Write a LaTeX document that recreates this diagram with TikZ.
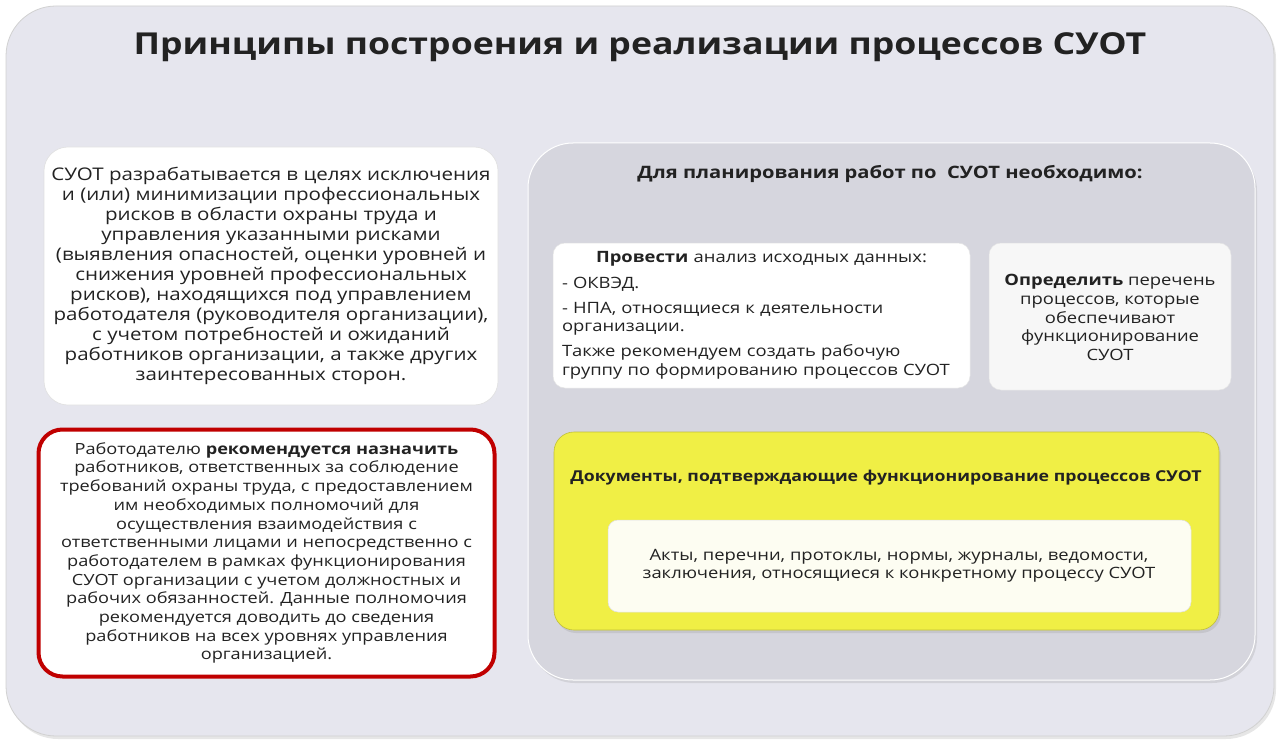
\documentclass[tikz,border=0pt]{standalone}
\usepackage{fontspec}
\setmainfont[FakeStretch=1.18]{Open Sans}
\usetikzlibrary{positioning,shadows}

\definecolor{panelbg}{HTML}{E6E6EE}
\definecolor{innerbg}{HTML}{D6D6DE}
\definecolor{redline}{HTML}{C00000}
\definecolor{yellowbg}{HTML}{F0EF45}
\definecolor{creambg}{HTML}{FDFDF2}
\definecolor{inktext}{HTML}{222222}

\begin{document}
\begin{tikzpicture}[
    x=1pt, y=-1pt,
    every node/.style={text=inktext, align=center, inner sep=0pt},
    softshadow/.style={drop shadow={shadow xshift=2pt, shadow yshift=-3pt, opacity=0.22, fill=black!45}},
    panel/.style={rectangle, rounded corners=50pt, fill=panelbg, draw=black!18, line width=0.8pt, softshadow},
    innerpanel/.style={rectangle, rounded corners=45pt, fill=innerbg, draw=white, line width=1pt, softshadow},
    card/.style={rectangle, rounded corners=24pt, fill=white, draw=black!12, line width=0.6pt},
    smallcard/.style={rectangle, rounded corners=12pt, fill=white, draw=black!10, line width=0.5pt},
    redcard/.style={rectangle, rounded corners=24pt, fill=white, draw=redline, line width=4pt},
    yellowcard/.style={rectangle, rounded corners=20pt, fill=yellowbg, draw=yellowbg!80!black, line width=0.6pt, softshadow},
    creamcard/.style={rectangle, rounded corners=10pt, fill=creambg, draw=black!12, line width=0.5pt},
    bodytext/.style={font=\fontsize{17.4}{20}\selectfont},
    redtext/.style={font=\fontsize{15.4}{18.7}\selectfont},
    smalltext/.style={font=\fontsize{15.6}{18.6}\selectfont}
]
\useasboundingbox (0,0) rectangle (1280,741);

% Фон и заголовок
\node[panel, minimum width=1268pt, minimum height=730pt] (outer) at (640,371) {};
\node[font=\bfseries\fontsize{30.2}{36}\selectfont] (title) at (640,47)
    {Принципы построения и реализации процессов СУОТ};

% Левая колонка
\node[card, minimum width=454pt, minimum height=258pt] (goal) at (271,276) {};
\node[bodytext] (goaltext) at (goal.center)
    {СУОТ разрабатывается в целях исключения\\
     и (или) минимизации профессиональных\\
     рисков в области охраны труда и\\
     управления указанными рисками\\
     (выявления опасностей, оценки уровней и\\
     снижения уровней профессиональных\\
     рисков), находящихся под управлением\\
     работодателя (руководителя организации),\\
     с учетом потребностей и ожиданий\\
     работников организации, а также других\\
     заинтересованных сторон.};

\node[redcard, minimum width=456pt, minimum height=247pt] (assign) at (266.5,553) {};
\node[redtext] (assigntext) at (assign.center)
    {Работодателю \textbf{рекомендуется назначить}\\
     работников, ответственных за соблюдение\\
     требований охраны труда, с предоставлением\\
     им необходимых полномочий для\\
     осуществления взаимодействия с\\
     ответственными лицами и непосредственно с\\
     работодателем в рамках функционирования\\
     СУОТ организации с учетом должностных и\\
     рабочих обязанностей. Данные полномочия\\
     рекомендуется доводить до сведения\\
     работников на всех уровнях управления\\
     организацией.};

% Правая колонка
\node[innerpanel, minimum width=727pt, minimum height=537pt] (plan) at (891.5,411.5) {};
\node[font=\bfseries\fontsize{17.1}{20}\selectfont] (planhead) at (890,174)
    {Для планирования работ по\ \ СУОТ необходимо:};

\node[smallcard, minimum width=417pt, minimum height=145pt] (analysis) at (761.5,315.5) {};
\node[smalltext, text width=399pt, align=left] (analysistext) at (analysis.center)
    {\makebox[\linewidth][c]{\textbf{Провести} анализ исходных данных:}\\[6.5pt]
     - ОКВЭД.\\[6.5pt]
     - НПА, относящиеся к деятельности\\
     организации.\\[6.5pt]
     Также рекомендуем создать рабочую\\
     группу по формированию процессов СУОТ};

\node[smallcard, fill=black!3, minimum width=242pt, minimum height=147pt] (define) at (1110,316.5) {};
\node[smalltext] (definetext) at (1110,317.5)
    {\textbf{Определить} перечень\\
     процессов, которые\\
     обеспечивают\\
     функционирование\\
     СУОТ};

\node[yellowcard, minimum width=665pt, minimum height=198pt] (docs) at (886.5,531) {};
\node[font=\bfseries\fontsize{15}{20}\selectfont] (docshead) at (886,478)
    {Документы, подтверждающие функционирование процессов СУОТ};
\node[creamcard, minimum width=583pt, minimum height=92pt] (doclist) at (899.5,566) {};
\node[smalltext, font=\fontsize{15.6}{18}\selectfont] (doclisttext) at (899,566)
    {Акты, перечни, протоклы, нормы, журналы, ведомости,\\
     заключения, относящиеся к конкретному процессу СУОТ};
\end{tikzpicture}
\end{document}
